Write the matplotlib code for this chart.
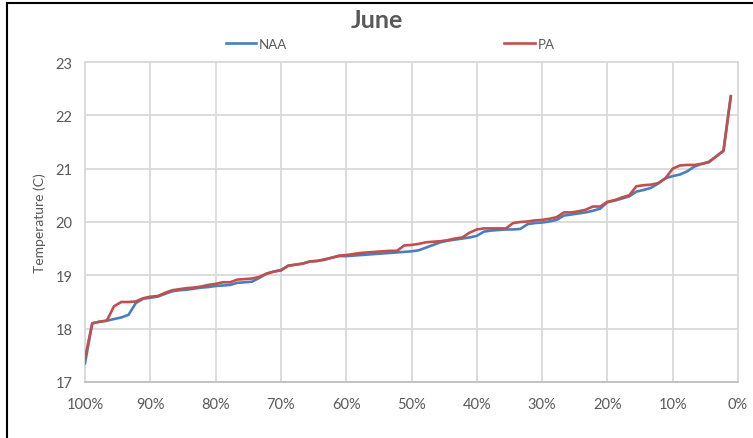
import numpy as np
import matplotlib
matplotlib.use("Agg")
import matplotlib.pyplot as plt
from matplotlib.lines import Line2D

# ----------------------------------------------- DATA -----------------------------------------------------------------
n_days = 90
exceedance = [100.0 * k / n_days for k in range(n_days, 0, -1)]  # 100% ... 1.1%

naa = [17.35, 18.10, 18.13, 18.15, 18.18, 18.21, 18.26, 18.48, 18.56, 18.58,
       18.60, 18.65, 18.70, 18.72, 18.73, 18.75, 18.77, 18.78, 18.80, 18.81,
       18.82, 18.86, 18.87, 18.88, 18.95, 19.03, 19.07, 19.09, 19.18, 19.20,
       19.22, 19.26, 19.27, 19.29, 19.33, 19.36, 19.36, 19.37, 19.38, 19.39,
       19.40, 19.41, 19.42, 19.43, 19.44, 19.45, 19.47, 19.52, 19.57, 19.62,
       19.65, 19.67, 19.69, 19.71, 19.74, 19.82, 19.84, 19.85, 19.86, 19.86,
       19.87, 19.96, 19.98, 19.99, 20.01, 20.04, 20.12, 20.14, 20.16, 20.18,
       20.21, 20.25, 20.37, 20.40, 20.44, 20.48, 20.57, 20.60, 20.64, 20.72,
       20.82, 20.86, 20.89, 20.95, 21.04, 21.09, 21.12, 21.23, 21.33, 22.34]

pa = [17.45, 18.10, 18.13, 18.15, 18.42, 18.50, 18.50, 18.51, 18.57, 18.60,
      18.61, 18.67, 18.72, 18.74, 18.76, 18.77, 18.79, 18.82, 18.84, 18.87,
      18.87, 18.92, 18.93, 18.94, 18.97, 19.03, 19.07, 19.10, 19.18, 19.20,
      19.22, 19.26, 19.27, 19.30, 19.33, 19.37, 19.38, 19.40, 19.42, 19.43,
      19.44, 19.45, 19.46, 19.46, 19.56, 19.57, 19.59, 19.62, 19.63, 19.64,
      19.66, 19.69, 19.71, 19.80, 19.86, 19.88, 19.88, 19.88, 19.88, 19.98,
      20.00, 20.01, 20.03, 20.04, 20.06, 20.09, 20.18, 20.18, 20.20, 20.23,
      20.29, 20.29, 20.38, 20.41, 20.46, 20.50, 20.67, 20.69, 20.70, 20.73,
      20.82, 21.00, 21.06, 21.07, 21.07, 21.09, 21.13, 21.23, 21.34, 22.36]

x_ticks = list(range(100, -1, -10))
y_ticks = [17, 18, 19, 20, 21, 22, 23]

# ----------------------------------------------- PLOT -----------------------------------------------------------------
plt.rcParams['font.family'] = ['Lato', 'DejaVu Sans']
text_grey = '#595959'
grid_grey = '#d9d9d9'

fig = plt.figure(figsize=(7.53, 4.39), dpi=100)
ax = fig.add_axes([85 / 753, 1 - 383 / 439, (738 - 85) / 753, (383 - 63) / 439])

ax.plot(exceedance, naa, color='#4a7ebf', lw=1.9, label='NAA', zorder=3)
ax.plot(exceedance, pa, color='#c0504d', lw=1.9, label='PA', zorder=4)

ax.set_xlim(100, 0)
ax.set_ylim(17, 23)
ax.set_xticks(x_ticks)
ax.set_xticklabels([f"{t}%" for t in x_ticks])
ax.set_yticks(y_ticks)
ax.grid(True, color=grid_grey, lw=1.3, zorder=0)
ax.set_axisbelow(True)
for s in ax.spines.values():
    s.set_color(grid_grey)
    s.set_linewidth(1.3)
ax.spines['bottom'].set_color('#bfbfbf')
ax.tick_params(length=0, labelsize=10.5, colors=text_grey)
ax.tick_params(axis='x', pad=11)
ax.tick_params(axis='y', pad=9)
ax.set_ylabel('Temperature (C)', fontsize=10, color=text_grey, labelpad=7)

fig.text(0.5, 1 - 20 / 439, 'June', ha='center', va='center', fontsize=18,
         fontweight='bold', color=text_grey)

fig.legend(loc='center', bbox_to_anchor=(390 / 753, 1 - 45 / 439), ncol=2, frameon=False,
           fontsize=9.5, handlelength=2.3, handletextpad=0.2, columnspacing=16.5,
           labelcolor=text_grey)

# outer frame
fig.add_artist(Line2D([7 / 753, 1], [1 - 4 / 439, 1 - 4 / 439], color='black', lw=1.5,
                      transform=fig.transFigure))
fig.add_artist(Line2D([7 / 753, 7 / 753], [0, 1 - 4 / 439], color='black', lw=1.5,
                      transform=fig.transFigure))

fig.savefig('out.png', dpi=100)
